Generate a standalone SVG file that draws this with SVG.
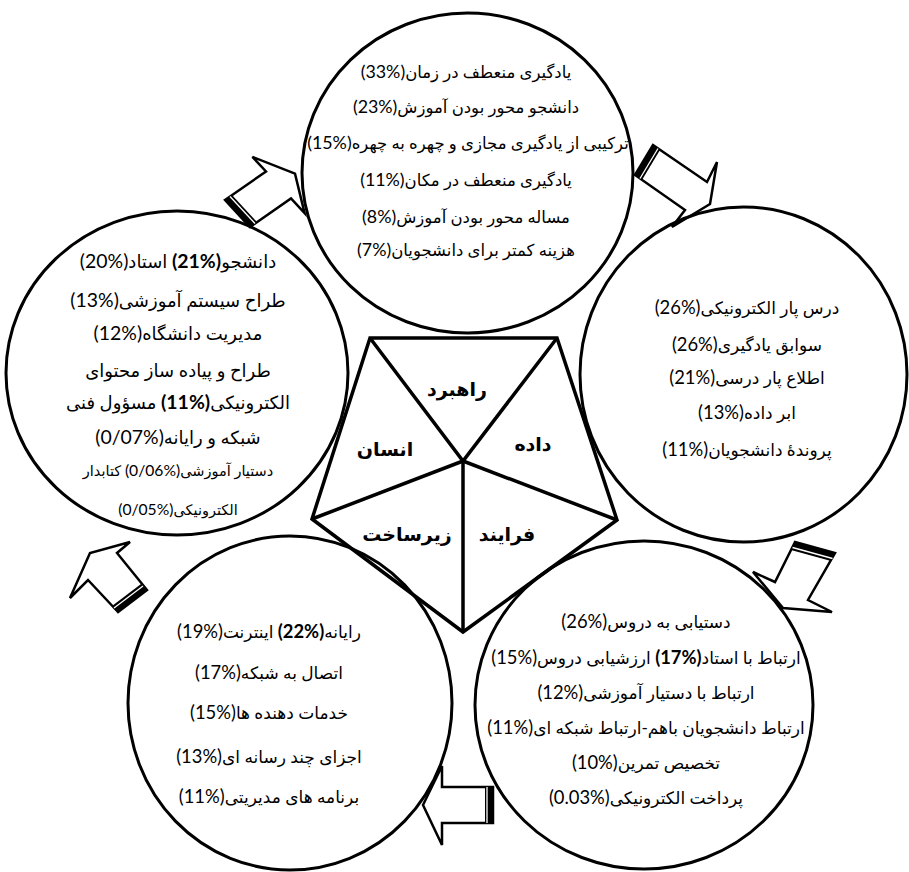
<svg xmlns="http://www.w3.org/2000/svg" width="909" height="872" viewBox="0 0 909 872">
<style>
.c{fill:none;stroke:#000;stroke-width:3}
.p{fill:none;stroke:#000;stroke-width:3.5;stroke-linejoin:miter}
.a{fill:#fff;stroke:#000;stroke-width:2.5;stroke-linejoin:miter}
.band{fill:#000}
.wl{stroke:#fff;stroke-width:1.3}
text{font-family:Lato,"DejaVu Sans",sans-serif;font-size:17px;fill:#000;direction:rtl;text-anchor:middle}
tspan.n{direction:ltr;unicode-bidi:bidi-override;font-size:1.08em}
.t{font-size:16.5px}
.L{font-size:18px}
.s{font-size:14.5px}
.b{font-weight:bold}
.lab{font-size:19px;font-weight:bold}
</style>
<rect width="909" height="872" fill="#fff"/>
<g id="connectors">
<g id="arrow1">
<polygon class="a" points="653,145 707,182 717,162 710,204 672,227 685,210 635,175"/>
<polygon class="band" points="635,175 653,145 660,150 642,180"/>
<line class="wl" x1="640" y1="178.5" x2="658" y2="148.5"/>
</g>
<g id="arrow2">
<polygon class="a" points="795,542 775,582 753,572 783,608 832,612 808,600 835,553"/>
<polygon class="band" points="795,542 835,553 831,561 791,550"/>
<line class="wl" x1="792.5" y1="547.5" x2="832.5" y2="558.5"/>
</g>
<g id="arrow3">
<polygon class="a" points="493,787 442,787 442,766 423,805 442,845 442,823 493,823"/>
<polygon class="band" points="493,787 493,823 485,823 485,787"/>
<line class="wl" x1="487" y1="787" x2="487" y2="823"/>
</g>
<g id="arrow4">
<polygon class="a" points="118,612 88,580 70,598 90,553 130,542 117,553 147,590"/>
<polygon class="band" points="118,612 147,590 141,584 112,606"/>
<line class="wl" x1="114" y1="608" x2="143" y2="586"/>
</g>
<g id="arrow5">
<polygon class="a" points="225,200 266,171.5 252.4,156.9 295,173.6 304.6,213.1 291,198.5 250,227"/>
<polygon class="band" points="225,200 250,227 257,222 232,195"/>
<line class="wl" x1="230" y1="196.5" x2="255" y2="223.5"/>
</g>
</g>
<g id="node-top">
<ellipse class="c" cx="467.5" cy="173" rx="165.5" ry="160"/>
<text class="t" x="466" y="78">یادگیری منعطف در زمان<tspan class="n">(33%)</tspan></text>
<text class="t" x="466" y="113">دانشجو محور بودن آموزش<tspan class="n">(23%)</tspan></text>
<text class="t" x="468" y="149">ترکیبی از یادگیری مجازی و چهره به چهره<tspan class="n">(15%)</tspan></text>
<text class="t" x="466" y="186">یادگیری منعطف در مکان<tspan class="n">(11%)</tspan></text>
<text class="t" x="466" y="223">مساله محور بودن آموزش<tspan class="n">(8%)</tspan></text>
<text class="t" x="466" y="256">هزینه کمتر برای دانشجویان<tspan class="n">(7%)</tspan></text>
</g>
<g id="node-right">
<ellipse class="c" cx="743.5" cy="374.5" rx="163.5" ry="167.5"/>
<text x="747" y="314">درس پار الکترونیکی<tspan class="n">(26%)</tspan></text>
<text x="747" y="351">سوابق یادگیری<tspan class="n">(26%)</tspan></text>
<text x="747" y="384">اطلاع پار درسی<tspan class="n">(21%)</tspan></text>
<text x="747" y="419">ابر داده<tspan class="n">(13%)</tspan></text>
<text x="747" y="456">پروندۀ دانشجویان<tspan class="n">(11%)</tspan></text>
</g>
<g id="node-bottom-right">
<ellipse class="c" cx="644" cy="705" rx="169" ry="164"/>
<text x="646" y="628">دستیابی به دروس<tspan class="n">(26%)</tspan></text>
<text x="646" y="664">ارتباط با استاد<tspan class="n b">(17%)</tspan> ارزشیابی دروس<tspan class="n">(15%)</tspan></text>
<text x="646" y="699">ارتباط با دستیار آموزشی<tspan class="n">(12%)</tspan></text>
<text x="646" y="734">ارتباط دانشجویان باهم-ارتباط شبکه ای<tspan class="n">(11%)</tspan></text>
<text x="646" y="769">تخصیص تمرین<tspan class="n">(10%)</tspan></text>
<text x="646" y="804">پرداخت  الکترونیکی<tspan class="n">(0.03%)</tspan></text>
</g>
<g id="node-bottom-left">
<ellipse class="c" cx="290" cy="703" rx="162" ry="167"/>
<text x="269" y="638">رایانه<tspan class="n b">(22%)</tspan> اینترنت<tspan class="n">(19%)</tspan></text>
<text x="269" y="679">اتصال به شبکه<tspan class="n">(17%)</tspan></text>
<text x="269" y="719">خدمات دهنده ها<tspan class="n">(15%)</tspan></text>
<text x="269" y="763">اجزای چند رسانه ای<tspan class="n">(13%)</tspan></text>
<text x="269" y="803">برنامه های مدیریتی<tspan class="n">(11%)</tspan></text>
</g>
<g id="node-left">
<ellipse class="c" cx="177" cy="373" rx="171" ry="162"/>
<text class="L" x="178" y="268">دانشجو<tspan class="n b">(21%)</tspan> استاد<tspan class="n">(20%)</tspan></text>
<text class="L" x="178" y="307">طراح سیستم آموزشی<tspan class="n">(13%)</tspan></text>
<text class="L" x="178" y="340">مدیریت دانشگاه<tspan class="n">(12%)</tspan></text>
<text class="L" x="178" y="377">طراح و پیاده ساز محتوای</text>
<text class="L" x="178" y="409">الکترونیکی<tspan class="n b">(11%)</tspan> مسؤول فنی</text>
<text class="L" x="178" y="444">شبکه و رایانه<tspan class="n">(0/07%)</tspan></text>
<text class="s" x="178" y="476">دستیار آموزشی<tspan class="n">(0/06%)</tspan> کتابدار</text>
<text class="s" x="178" y="515">الکترونیکی<tspan class="n">(0/05%)</tspan></text>
</g>
<g id="node-center">
<polygon class="p" points="370,338 557,338 617,520 463,632 312,519"/>
<polyline class="p" points="370,338 463,461 557,338"/>
<line class="p" x1="463" y1="461" x2="617" y2="520"/>
<line class="p" x1="463" y1="461" x2="463" y2="632"/>
<line class="p" x1="463" y1="461" x2="312" y2="519"/>
<text class="lab" x="457" y="396">راهبرد</text>
<text class="lab" x="533" y="451">داده</text>
<text class="lab" x="385" y="456">انسان</text>
<text class="lab" x="407" y="541">زیرساخت</text>
<text class="lab" x="507" y="541">فرایند</text>
</g>
</svg>
